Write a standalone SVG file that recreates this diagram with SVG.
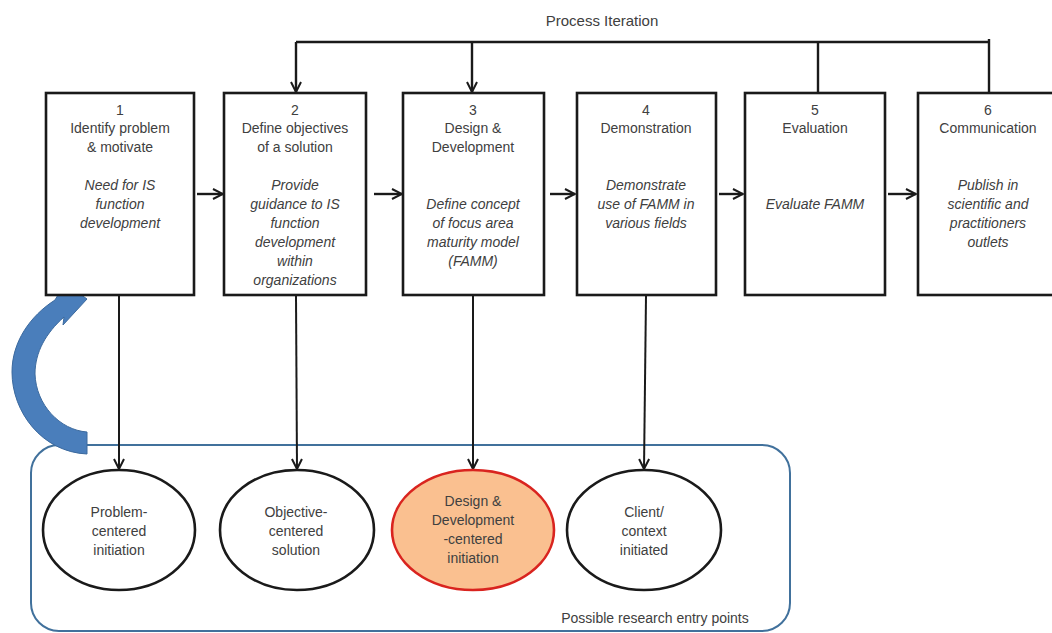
<svg xmlns="http://www.w3.org/2000/svg" width="1052" height="633" viewBox="0 0 1052 633">
  <defs>
    <style>
      .box { fill: #ffffff; stroke: #1a1a1a; stroke-width: 2.6; }
      .oval { fill: #ffffff; stroke: #1a1a1a; stroke-width: 2.6; }
      .oval-hl { fill: #fac090; stroke: #d9241f; stroke-width: 2.6; }
      .t { font-family: "Liberation Sans", Arial, sans-serif; font-size: 14px; fill: #404040; text-anchor: middle; }
      .i { font-style: italic; }
      .line { fill: none; stroke: #1a1a1a; stroke-width: 2.4; }
      .thin { fill: none; stroke: #1a1a1a; stroke-width: 2; }
      .frame { fill: none; stroke: #41719c; stroke-width: 2; }
    </style>
    <marker id="arr" viewBox="0 0 12 12" refX="11" refY="6" markerWidth="12" markerHeight="12" markerUnits="userSpaceOnUse" orient="auto">
      <path d="M1,1 L11,6 L1,11" fill="none" stroke="#1a1a1a" stroke-width="2"/>
    </marker>
  </defs>

  <rect width="1052" height="633" fill="#ffffff"/>

  <!-- entry-point container -->
  <rect class="frame" x="31" y="445" width="759" height="186" rx="28" ry="28"/>
  <text class="t" x="655" y="623">Possible research entry points</text>

  <!-- connectors -->
  <g id="connectors">
    <!-- iteration loop -->
    <text class="t" x="602" y="26" style="font-size:15px">Process Iteration</text>
    <path class="line" d="M296,42 L989,42"/>
    <path class="line" d="M989,39 L989,93"/>
    <path class="line" d="M818,42 L818,93"/>
    <path class="line" d="M296,42 L296,92" marker-end="url(#arr)"/>
    <path class="line" d="M472,42 L472,92" marker-end="url(#arr)"/>
    <!-- process flow -->
    <path class="line" d="M197,194 L223,194" marker-end="url(#arr)"/>
    <path class="line" d="M374,194 L402,194" marker-end="url(#arr)"/>
    <path class="line" d="M550,194 L575,194" marker-end="url(#arr)"/>
    <path class="line" d="M719,194 L743,194" marker-end="url(#arr)"/>
    <path class="line" d="M888,194 L916,194" marker-end="url(#arr)"/>
    <!-- entry points -->
    <path class="thin" d="M119,296 L119,469" marker-end="url(#arr)"/>
    <path class="thin" d="M296,296 L297,469" marker-end="url(#arr)"/>
    <path class="thin" d="M473,296 L473,469" marker-end="url(#arr)"/>
    <path class="thin" d="M646,296 L644,469" marker-end="url(#arr)"/>
  </g>

  <!-- curved return arrow -->
  <path d="M87,432 L87,454 C42,452 12,412 12,372 C12,342 30,316 55,300 L65,283 L87,299 L63,325 L64,317 C46,333 35,352 35,374 C36,405 60,430 87,432 Z" fill="#4a7ebb" stroke="#3c6a9e" stroke-width="1"/>

  <!-- process steps -->
  <g id="step1">
    <rect class="box" x="46" y="93" width="148" height="202"/>
    <text class="t" x="120" y="115">1</text>
    <text class="t" x="120" y="133">Identify problem</text>
    <text class="t" x="120" y="152">&amp; motivate</text>
    <text class="t i" x="120" y="190">Need for IS</text>
    <text class="t i" x="120" y="209">function</text>
    <text class="t i" x="120" y="228">development</text>
  </g>
  <g id="step2">
    <rect class="box" x="224" y="93" width="142" height="202"/>
    <text class="t" x="295" y="115">2</text>
    <text class="t" x="295" y="133">Define objectives</text>
    <text class="t" x="295" y="152">of a solution</text>
    <text class="t i" x="295" y="190">Provide</text>
    <text class="t i" x="295" y="209">guidance to IS</text>
    <text class="t i" x="295" y="228">function</text>
    <text class="t i" x="295" y="247">development</text>
    <text class="t i" x="295" y="266">within</text>
    <text class="t i" x="295" y="285">organizations</text>
  </g>
  <g id="step3">
    <rect class="box" x="403" y="93" width="141" height="202"/>
    <text class="t" x="473" y="115">3</text>
    <text class="t" x="473" y="133">Design &amp;</text>
    <text class="t" x="473" y="152">Development</text>
    <text class="t i" x="473" y="209">Define concept</text>
    <text class="t i" x="473" y="228">of focus area</text>
    <text class="t i" x="473" y="247">maturity model</text>
    <text class="t i" x="473" y="266">(FAMM)</text>
  </g>
  <g id="step4">
    <rect class="box" x="577" y="93" width="139" height="202"/>
    <text class="t" x="646" y="115">4</text>
    <text class="t" x="646" y="133">Demonstration</text>
    <text class="t i" x="646" y="190">Demonstrate</text>
    <text class="t i" x="646" y="209">use of FAMM in</text>
    <text class="t i" x="646" y="228">various fields</text>
  </g>
  <g id="step5">
    <rect class="box" x="745" y="93" width="140" height="202"/>
    <text class="t" x="815" y="115">5</text>
    <text class="t" x="815" y="133">Evaluation</text>
    <text class="t i" x="815" y="209">Evaluate FAMM</text>
  </g>
  <g id="step6">
    <rect class="box" x="918" y="93" width="142" height="202"/>
    <text class="t" x="988" y="115">6</text>
    <text class="t" x="988" y="133">Communication</text>
    <text class="t i" x="988" y="190">Publish in</text>
    <text class="t i" x="988" y="209">scientific and</text>
    <text class="t i" x="988" y="228">practitioners</text>
    <text class="t i" x="988" y="247">outlets</text>
  </g>

  <!-- entry points -->
  <g id="entry-problem">
    <ellipse class="oval" cx="119" cy="530" rx="76" ry="60"/>
    <text class="t" x="119" y="517">Problem-</text>
    <text class="t" x="119" y="536">centered</text>
    <text class="t" x="119" y="555">initiation</text>
  </g>
  <g id="entry-objective">
    <ellipse class="oval" cx="297" cy="530" rx="77" ry="60"/>
    <text class="t" x="296" y="517">Objective-</text>
    <text class="t" x="296" y="536">centered</text>
    <text class="t" x="296" y="555">solution</text>
  </g>
  <g id="entry-design">
    <ellipse class="oval-hl" cx="473" cy="530" rx="81" ry="60"/>
    <text class="t" x="473" y="506">Design &amp;</text>
    <text class="t" x="473" y="525">Development</text>
    <text class="t" x="473" y="544">-centered</text>
    <text class="t" x="473" y="563">initiation</text>
  </g>
  <g id="entry-client">
    <ellipse class="oval" cx="644" cy="530" rx="77" ry="60"/>
    <text class="t" x="644" y="517">Client/</text>
    <text class="t" x="644" y="536">context</text>
    <text class="t" x="644" y="555">initiated</text>
  </g>
</svg>
